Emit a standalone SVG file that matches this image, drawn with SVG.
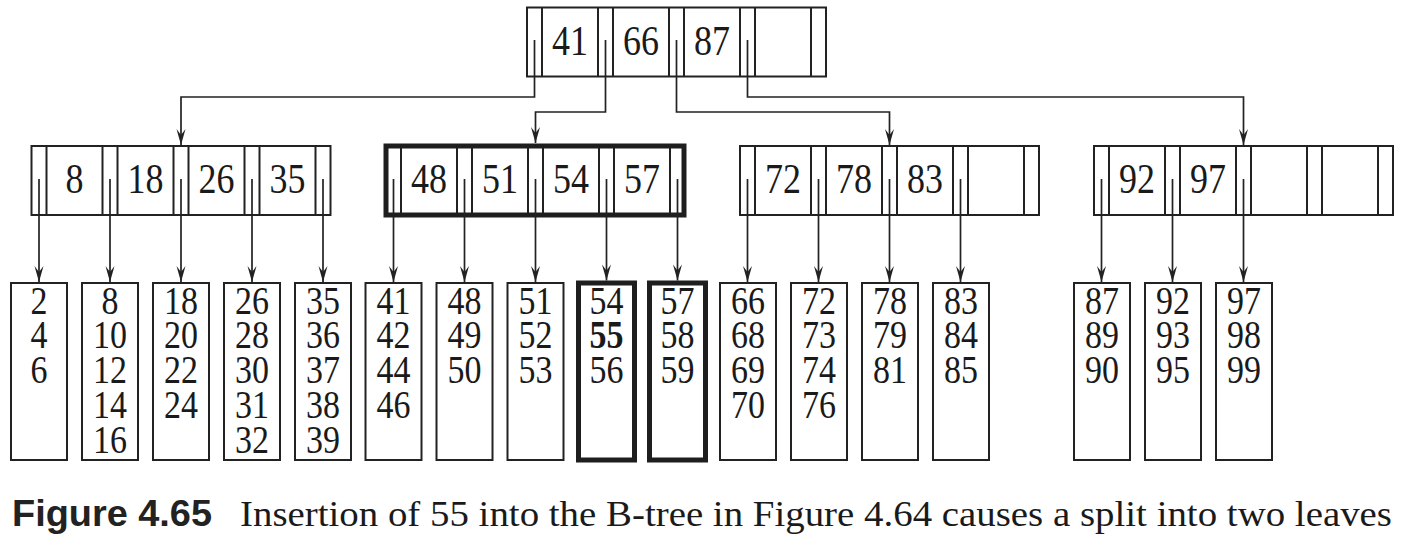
<svg xmlns="http://www.w3.org/2000/svg" width="1402" height="550" viewBox="0 0 1402 550">
<style>
.box{fill:#fff;stroke:#222;stroke-width:2}
.thick{fill:none;stroke:#1e1e1e;stroke-width:5}
.dv{stroke:#222;stroke-width:2}
.k{font-family:'Liberation Serif','Times New Roman',Tinos,Times,serif;font-size:36px;text-anchor:middle;fill:#1a1a1a}
.lf{font-family:'Liberation Serif','Times New Roman',Tinos,Times,serif;font-size:34px;text-anchor:middle;fill:#1a1a1a}
.cap{font-family:'Liberation Serif','Times New Roman',Tinos,Times,serif;font-size:32px;fill:#1a1a1a}
.fig{font-family:'Liberation Sans',Arial,Arimo,Helvetica,sans-serif;font-weight:bold;font-size:30px;fill:#222}
.conn{fill:none;stroke:#222;stroke-width:1.7}
</style>
<defs>
<marker id="ah" viewBox="-17 -5 18 10" refX="0" refY="0" markerWidth="18" markerHeight="10" markerUnits="userSpaceOnUse" orient="auto">
<path d="M0,0 L-16,-4.5 L-10,0 L-16,4.5 Z" fill="#222"/>
</marker>
</defs>
<rect width="1402" height="550" fill="#fff"/>

<g id="root">
<rect class="box" x="527" y="7.5" width="299" height="69"/>
<path class="dv" d="M542,7.5V76.5M598,7.5V76.5M613,7.5V76.5M669,7.5V76.5M684,7.5V76.5M740,7.5V76.5M755,7.5V76.5M811,7.5V76.5"/>
<text class="k" transform="translate(570,55) scale(1,1.15)">41</text>
<text class="k" transform="translate(641,55) scale(1,1.15)">66</text>
<text class="k" transform="translate(712,55) scale(1,1.15)">87</text>
</g>

<g id="inner1">
<rect class="box" x="31.5" y="146" width="299" height="69"/>
<path class="dv" d="M46.5,146V215M102.5,146V215M117.5,146V215M173.5,146V215M188.5,146V215M244.5,146V215M259.5,146V215M315.5,146V215"/>
<text class="k" transform="translate(74.5,193) scale(1,1.15)">8</text>
<text class="k" transform="translate(145.5,193) scale(1,1.15)">18</text>
<text class="k" transform="translate(216.5,193) scale(1,1.15)">26</text>
<text class="k" transform="translate(287.5,193) scale(1,1.15)">35</text>
</g>

<g id="inner2">
<rect class="box" x="386" y="146" width="298" height="69"/>
<path class="dv" d="M401,146V215M457,146V215M472,146V215M528,146V215M543,146V215M599,146V215M614,146V215M670,146V215"/>
<rect class="thick" x="386" y="146" width="298" height="69"/>
<text class="k" transform="translate(429,193) scale(1,1.15)">48</text>
<text class="k" transform="translate(500,193) scale(1,1.15)">51</text>
<text class="k" transform="translate(571,193) scale(1,1.15)">54</text>
<text class="k" transform="translate(642,193) scale(1,1.15)">57</text>
</g>

<g id="inner3">
<rect class="box" x="740" y="146" width="299" height="69"/>
<path class="dv" d="M755,146V215M811,146V215M826,146V215M882,146V215M897,146V215M953,146V215M968,146V215M1024,146V215"/>
<text class="k" transform="translate(783,193) scale(1,1.15)">72</text>
<text class="k" transform="translate(854,193) scale(1,1.15)">78</text>
<text class="k" transform="translate(925,193) scale(1,1.15)">83</text>
</g>

<g id="inner4">
<rect class="box" x="1094" y="146" width="299" height="69"/>
<path class="dv" d="M1109,146V215M1165,146V215M1180,146V215M1236,146V215M1251,146V215M1307,146V215M1322,146V215M1378,146V215"/>
<text class="k" transform="translate(1137,193) scale(1,1.15)">92</text>
<text class="k" transform="translate(1208,193) scale(1,1.15)">97</text>
</g>

<g id="leaf1"><rect class="box" x="11" y="283" width="56" height="177"/>
<text class="lf" transform="translate(39,313.5) scale(1,1.15)"><tspan x="0">2</tspan><tspan x="0" dy="30.43">4</tspan><tspan x="0" dy="30.43">6</tspan></text></g>
<g id="leaf2"><rect class="box" x="82" y="283" width="56" height="177"/>
<text class="lf" transform="translate(110,313.5) scale(1,1.15)"><tspan x="0">8</tspan><tspan x="0" dy="30.43">10</tspan><tspan x="0" dy="30.43">12</tspan><tspan x="0" dy="30.43">14</tspan><tspan x="0" dy="30.43">16</tspan></text></g>
<g id="leaf3"><rect class="box" x="153" y="283" width="56" height="177"/>
<text class="lf" transform="translate(181,313.5) scale(1,1.15)"><tspan x="0">18</tspan><tspan x="0" dy="30.43">20</tspan><tspan x="0" dy="30.43">22</tspan><tspan x="0" dy="30.43">24</tspan></text></g>
<g id="leaf4"><rect class="box" x="224" y="283" width="56" height="177"/>
<text class="lf" transform="translate(252,313.5) scale(1,1.15)"><tspan x="0">26</tspan><tspan x="0" dy="30.43">28</tspan><tspan x="0" dy="30.43">30</tspan><tspan x="0" dy="30.43">31</tspan><tspan x="0" dy="30.43">32</tspan></text></g>
<g id="leaf5"><rect class="box" x="295" y="283" width="56" height="177"/>
<text class="lf" transform="translate(323,313.5) scale(1,1.15)"><tspan x="0">35</tspan><tspan x="0" dy="30.43">36</tspan><tspan x="0" dy="30.43">37</tspan><tspan x="0" dy="30.43">38</tspan><tspan x="0" dy="30.43">39</tspan></text></g>
<g id="leaf6"><rect class="box" x="365.5" y="283" width="56" height="177"/>
<text class="lf" transform="translate(393.5,313.5) scale(1,1.15)"><tspan x="0">41</tspan><tspan x="0" dy="30.43">42</tspan><tspan x="0" dy="30.43">44</tspan><tspan x="0" dy="30.43">46</tspan></text></g>
<g id="leaf7"><rect class="box" x="436.5" y="283" width="56" height="177"/>
<text class="lf" transform="translate(464.5,313.5) scale(1,1.15)"><tspan x="0">48</tspan><tspan x="0" dy="30.43">49</tspan><tspan x="0" dy="30.43">50</tspan></text></g>
<g id="leaf8"><rect class="box" x="507.5" y="283" width="56" height="177"/>
<text class="lf" transform="translate(535.5,313.5) scale(1,1.15)"><tspan x="0">51</tspan><tspan x="0" dy="30.43">52</tspan><tspan x="0" dy="30.43">53</tspan></text></g>
<g id="leaf9"><rect class="box thick" x="578.5" y="283" width="56" height="177" style="fill:#fff"/>
<text class="lf" transform="translate(606.5,313.5) scale(1,1.15)"><tspan x="0">54</tspan><tspan x="0" dy="30.43" font-weight="bold">55</tspan><tspan x="0" dy="30.43">56</tspan></text></g>
<g id="leaf10"><rect class="box thick" x="649.5" y="283" width="56" height="177" style="fill:#fff"/>
<text class="lf" transform="translate(677.5,313.5) scale(1,1.15)"><tspan x="0">57</tspan><tspan x="0" dy="30.43">58</tspan><tspan x="0" dy="30.43">59</tspan></text></g>
<g id="leaf11"><rect class="box" x="720" y="283" width="56" height="177"/>
<text class="lf" transform="translate(748,313.5) scale(1,1.15)"><tspan x="0">66</tspan><tspan x="0" dy="30.43">68</tspan><tspan x="0" dy="30.43">69</tspan><tspan x="0" dy="30.43">70</tspan></text></g>
<g id="leaf12"><rect class="box" x="791" y="283" width="56" height="177"/>
<text class="lf" transform="translate(819,313.5) scale(1,1.15)"><tspan x="0">72</tspan><tspan x="0" dy="30.43">73</tspan><tspan x="0" dy="30.43">74</tspan><tspan x="0" dy="30.43">76</tspan></text></g>
<g id="leaf13"><rect class="box" x="862" y="283" width="56" height="177"/>
<text class="lf" transform="translate(890,313.5) scale(1,1.15)"><tspan x="0">78</tspan><tspan x="0" dy="30.43">79</tspan><tspan x="0" dy="30.43">81</tspan></text></g>
<g id="leaf14"><rect class="box" x="933" y="283" width="56" height="177"/>
<text class="lf" transform="translate(961,313.5) scale(1,1.15)"><tspan x="0">83</tspan><tspan x="0" dy="30.43">84</tspan><tspan x="0" dy="30.43">85</tspan></text></g>
<g id="leaf15"><rect class="box" x="1074" y="283" width="56" height="177"/>
<text class="lf" transform="translate(1102,313.5) scale(1,1.15)"><tspan x="0">87</tspan><tspan x="0" dy="30.43">89</tspan><tspan x="0" dy="30.43">90</tspan></text></g>
<g id="leaf16"><rect class="box" x="1145" y="283" width="56" height="177"/>
<text class="lf" transform="translate(1173,313.5) scale(1,1.15)"><tspan x="0">92</tspan><tspan x="0" dy="30.43">93</tspan><tspan x="0" dy="30.43">95</tspan></text></g>
<g id="leaf17"><rect class="box" x="1216" y="283" width="56" height="177"/>
<text class="lf" transform="translate(1244,313.5) scale(1,1.15)"><tspan x="0">97</tspan><tspan x="0" dy="30.43">98</tspan><tspan x="0" dy="30.43">99</tspan></text></g>

<g id="connectors" class="conn">
<path marker-end="url(#ah)" d="M534.5,40V97H181V145"/>
<path marker-end="url(#ah)" d="M605.5,40V112H535.5V143"/>
<path marker-end="url(#ah)" d="M676.5,40V112H889.5V145"/>
<path marker-end="url(#ah)" d="M747.5,40V97H1243.5V145"/>
<path marker-end="url(#ah)" d="M39,179V282"/>
<path marker-end="url(#ah)" d="M110,179V282"/>
<path marker-end="url(#ah)" d="M181,179V282"/>
<path marker-end="url(#ah)" d="M252,179V282"/>
<path marker-end="url(#ah)" d="M323,179V282"/>
<path marker-end="url(#ah)" d="M393.5,179V282"/>
<path marker-end="url(#ah)" d="M464.5,179V282"/>
<path marker-end="url(#ah)" d="M535.5,179V282"/>
<path marker-end="url(#ah)" d="M606.5,179V280.5"/>
<path marker-end="url(#ah)" d="M677.5,179V280.5"/>
<path marker-end="url(#ah)" d="M747.5,179V282"/>
<path marker-end="url(#ah)" d="M818.5,179V282"/>
<path marker-end="url(#ah)" d="M889.5,179V282"/>
<path marker-end="url(#ah)" d="M960.5,179V282"/>
<path marker-end="url(#ah)" d="M1101.5,179V282"/>
<path marker-end="url(#ah)" d="M1172.5,179V282"/>
<path marker-end="url(#ah)" d="M1243.5,179V282"/>
</g>

<g id="caption">
<text class="fig" transform="translate(12,526) scale(1,1.2)" textLength="200" lengthAdjust="spacingAndGlyphs">Figure 4.65</text>
<text class="cap" transform="translate(240,526) scale(1,1.12)" textLength="1152" lengthAdjust="spacingAndGlyphs">Insertion of 55 into the B-tree in Figure 4.64 causes a split into two leaves</text>
</g>
</svg>
